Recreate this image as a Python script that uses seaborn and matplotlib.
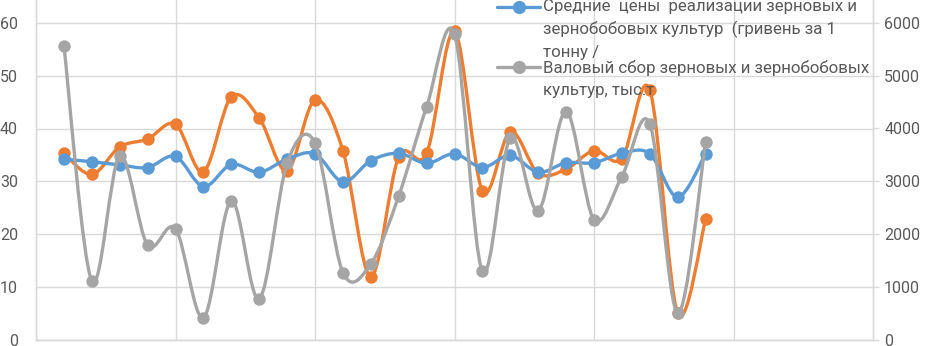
import numpy as np
import matplotlib
matplotlib.use("Agg")
import matplotlib.pyplot as plt
import seaborn as sns
from matplotlib.path import Path
from matplotlib.patches import PathPatch
from matplotlib.lines import Line2D

# chart data, categories 1..24
periods = list(range(1, 25))
prices = [34.2, 33.7, 33.1, 32.6, 34.7, 29.0, 33.2, 31.7, 34.2, 35.2, 29.9, 33.9,
          35.3, 33.4, 35.2, 32.6, 34.9, 31.7, 33.5, 33.5, 35.3, 35.2, 27.0, 35.2]
orange_vals = [35.3, 31.3, 36.5, 38.0, 40.8, 31.8, 46.0, 42.0, 32.0, 45.4, 35.8, 11.9,
               34.6, 35.3, 58.4, 28.2, 39.4, 31.5, 32.3, 35.8, 34.3, 47.3, 5.0, 22.8]
harvest = [5570, 1110, 3480, 1790, 2100, 410, 2630, 770, 3340, 3730, 1270, 1430,
           2720, 4410, 5790, 1290, 3820, 2440, 4320, 2270, 3090, 4090, 500, 3740]

label_prices = "Средние  цены  реализации зерновых и\nзернобобовых культур  (гривень за 1\nтонну /"
label_harvest = "Валовый сбор зерновых и зернобобовых\nкультур, тыс.т"

BLUE = "#5B9BD5"
ORANGE = "#ED7D31"
GREY = "#A5A5A5"
TXT = "#595959"
GRID = "#D9D9D9"

sns.set_theme(style="white")
plt.rcParams['font.family'] = ['Roboto', 'DejaVu Sans']


def smooth_path(xs, ys):
    # Excel-like smoothed line: cubic Bezier segments through every point
    xs = np.asarray(xs, float)
    ys = np.asarray(ys, float)
    n = len(xs)
    verts = [(xs[0], ys[0])]
    codes = [Path.MOVETO]
    for i in range(n - 1):
        i0 = max(i - 1, 0)
        i3 = min(i + 2, n - 1)
        c1 = (xs[i] + (xs[i + 1] - xs[i0]) / 6, ys[i] + (ys[i + 1] - ys[i0]) / 6)
        c2 = (xs[i + 1] - (xs[i3] - xs[i]) / 6, ys[i + 1] - (ys[i3] - ys[i]) / 6)
        verts += [c1, c2, (xs[i + 1], ys[i + 1])]
        codes += [Path.CURVE4] * 3
    return Path(verts, codes)


fig = plt.figure(figsize=(9.28, 3.46), dpi=100)
ax = fig.add_axes([36 / 928, 6.5 / 346, 837 / 928, 339.5 / 346])
ax2 = ax.twinx()

ymax = 339.5 / 5.275
ax.set_xlim(0, 30)
ax.set_ylim(0, ymax)
ax2.set_ylim(0, ymax * 100)

ax.set_yticks(range(0, 61, 10))
ax2.set_yticks(range(0, 6001, 1000))
ax.set_xticks(range(5, 30, 5))
ax.set_xticklabels([])
ax.grid(True, color=GRID, lw=1)
ax.set_axisbelow(True)

for a in (ax, ax2):
    for s in a.spines.values():
        s.set_color(GRID)
        s.set_linewidth(1)
    a.spines['top'].set_visible(False)

ax.tick_params(axis='y', length=0, pad=13, labelsize=11.5, labelcolor=TXT)
ax.tick_params(axis='x', length=0)
ax2.tick_params(axis='y', length=4, width=1, color=GRID, pad=4, labelsize=11.5, labelcolor=TXT)
ax2.grid(False)
for a in (ax, ax2):
    for lbl in a.get_yticklabels():
        lbl.set_verticalalignment('center_baseline')

# series: orange, then blue (left axis), grey on right axis
for vals, col in [(orange_vals, ORANGE), (prices, BLUE)]:
    ax.add_patch(PathPatch(smooth_path(periods, vals), fill=False, edgecolor=col,
                           lw=2.4, capstyle='round', joinstyle='round', zorder=2))
    sns.scatterplot(x=periods, y=vals, ax=ax, color=col, s=80, edgecolor=col,
                    linewidth=0, zorder=3, legend=False)

ax2.add_patch(PathPatch(smooth_path(periods, harvest), fill=False, edgecolor=GREY,
                        lw=2.4, capstyle='round', joinstyle='round', zorder=2))
sns.scatterplot(x=periods, y=harvest, ax=ax2, color=GREY, s=80, edgecolor=GREY,
                linewidth=0, zorder=3, legend=False)
ax2.set_xlim(0, 30)
ax.set_ylabel("")
ax2.set_ylabel("")

# legend drawn by hand (handle aligned to first text line, as in the original)
W, H = 928.0, 346.0
step = 22.5
for lab, col, y_handle, y_base in [(label_prices, BLUE, 7, 11.5), (label_harvest, GREY, 67, 73)]:
    fig.add_artist(Line2D([497 / W, 519 / W, 540 / W], [1 - y_handle / H] * 3,
                          transform=fig.transFigure, color=col, lw=2.4,
                          marker='o', markersize=8.5, markevery=[1]))
    for j, line in enumerate(lab.split("\n")):
        fig.text(543 / W, 1 - (y_base + j * step) / H, line, ha='left', va='baseline',
                 fontsize=12.2, color=TXT)

fig.savefig("out.png", dpi=100)
